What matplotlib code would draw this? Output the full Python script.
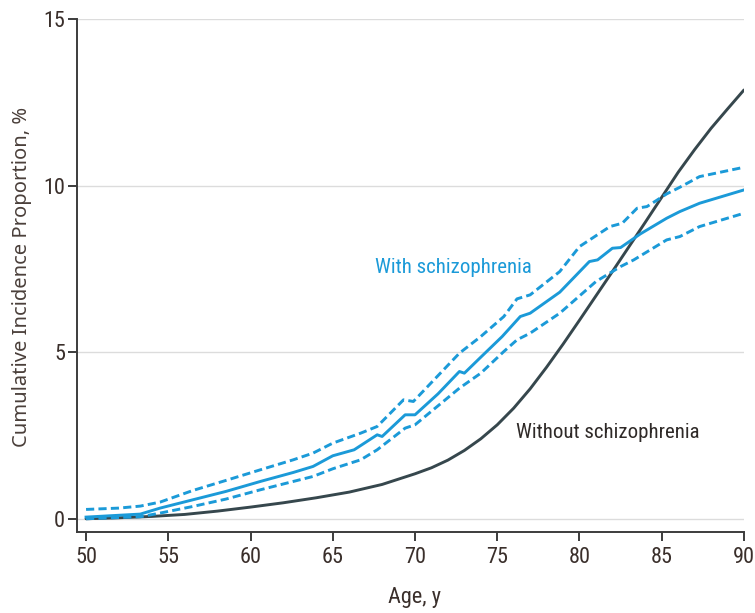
import matplotlib
matplotlib.use("Agg")
import matplotlib.pyplot as plt
from matplotlib import font_manager

# ---- data ----
with_age = [50, 53.3, 54.5, 56.5, 58.5, 60.6, 62.6, 63.8, 65.0, 66.3, 67.7, 68.0,
            69.4, 70.0, 71.4, 72.7, 73.0, 74.0, 75.3, 76.4, 77.0, 78.8, 80.6,
            81.1, 82.0, 82.5, 83.7, 85.3, 86.1, 87.3, 90.0]
with_val = [0.05, 0.14, 0.32, 0.57, 0.82, 1.12, 1.39, 1.57, 1.89, 2.07, 2.52, 2.47,
            3.12, 3.12, 3.75, 4.42, 4.37, 4.85, 5.47, 6.07, 6.17, 6.80, 7.72,
            7.77, 8.12, 8.14, 8.55, 9.02, 9.22, 9.47, 9.87]

upper_age = [50, 52, 53.3, 54.5, 56.5, 58.5, 60.6, 62.6, 63.8, 65.0, 66.7, 67.7,
             69.3, 69.9, 72.7, 74.0, 75.4, 76.2, 77.0, 78.8, 80.0, 81.85, 82.6,
             83.5, 84.1, 85.3, 86.1, 87.3, 90.0]
upper_val = [0.28, 0.32, 0.38, 0.50, 0.85, 1.15, 1.47, 1.77, 1.97, 2.27, 2.57, 2.77,
             3.57, 3.52, 4.97, 5.47, 6.07, 6.60, 6.72, 7.42, 8.17, 8.77, 8.87,
             9.32, 9.37, 9.75, 9.95, 10.27, 10.55]

lower_age = [50, 53.3, 54.5, 56.5, 58.5, 60.6, 62.6, 63.8, 65.0, 66.7, 67.7, 69.4,
             70.0, 72.7, 74.0, 75.4, 76.2, 77.0, 78.8, 81.0, 82.5, 83.3, 85.3,
             86.1, 87.3, 90.0]
lower_val = [0.0, 0.06, 0.17, 0.37, 0.59, 0.87, 1.12, 1.27, 1.50, 1.77, 2.07, 2.72,
             2.82, 3.92, 4.37, 5.02, 5.37, 5.57, 6.17, 7.12, 7.57, 7.77, 8.37,
             8.47, 8.77, 9.17]

without_age = [50, 52, 54, 56, 58, 60, 62, 64, 66, 68, 69, 70, 71, 72, 73, 74, 75,
               76, 77, 78, 79, 80, 81, 82, 83, 84, 85, 86, 87, 88, 89, 90]
without_val = [0.0, 0.03, 0.07, 0.13, 0.23, 0.35, 0.48, 0.63, 0.80, 1.03, 1.19,
               1.35, 1.53, 1.76, 2.05, 2.40, 2.82, 3.32, 3.90, 4.55, 5.24, 5.96,
               6.69, 7.42, 8.16, 8.90, 9.65, 10.40, 11.08, 11.72, 12.30, 12.87]

x_ticks = [50, 55, 60, 65, 70, 75, 80, 85, 90]
y_ticks = [0, 5, 10, 15]

# ---- font choice ----
available = {f.name for f in font_manager.fontManager.ttflist}


def pick(cands):
    for c in cands:
        if c in available:
            return c
    return "DejaVu Sans"


COND = pick(["Liberation Sans Narrow", "Roboto Condensed", "Open Sans Condensed",
             "Liberation Sans"])
WIDE = pick(["Noto Sans", "Open Sans", "DejaVu Sans"])
plt.rcParams["font.family"] = [COND, "DejaVu Sans"]

BLUE = "#1b9ad8"
DARK = "#36474d"
TEXT = "#3a2f2b"

fig = plt.figure(figsize=(7.55, 6.13), dpi=100)
ax = fig.add_axes([0.102, 0.132, 0.8834, 0.837])

ax.plot(without_age, without_val, color=DARK, lw=2.1, zorder=3,
        solid_capstyle="round", solid_joinstyle="round")
ax.plot(upper_age, upper_val, color=BLUE, lw=2.1, dashes=(2.8, 1.45), zorder=4)
ax.plot(lower_age, lower_val, color=BLUE, lw=2.1, dashes=(2.8, 1.45), zorder=4)
ax.plot(with_age, with_val, color=BLUE, lw=2.1, zorder=5, solid_joinstyle="round")

ax.set_xlim(49.45, 90)
ax.set_ylim(-0.4, 15)
ax.set_xticks(x_ticks)
ax.set_yticks(y_ticks)

ax.grid(axis="y", color="#dcdcdc", lw=1.0, zorder=0)
ax.set_axisbelow(True)

for s in ["top", "right"]:
    ax.spines[s].set_visible(False)
for s in ["left", "bottom"]:
    ax.spines[s].set_color("#3c3c3c")
    ax.spines[s].set_linewidth(1.4)

ax.tick_params(axis="both", direction="out", length=6.5, width=1.4, color="#3c3c3c",
               labelsize=16, labelcolor=TEXT)
ax.tick_params(axis="x", pad=4)
ax.tick_params(axis="y", pad=2)

fig.text(415 / 755, 1 - 598 / 613, "Age, y", fontsize=16, color=TEXT,
         ha="center", va="center")
fig.text(22 / 755, 1 - 277 / 613, "Cumulative Incidence Proportion, %",
         family=[WIDE, "DejaVu Sans"], fontsize=14.5, color="#4a3f3a",
         rotation=90, ha="center", va="center")

ax.text(72.35, 7.53, "With schizophrenia", color=BLUE, fontsize=15,
        ha="center", va="center")
ax.text(81.7, 2.58, "Without schizophrenia", color="#2f2a28", fontsize=15,
        ha="center", va="center")

fig.savefig("out.png", dpi=100)
